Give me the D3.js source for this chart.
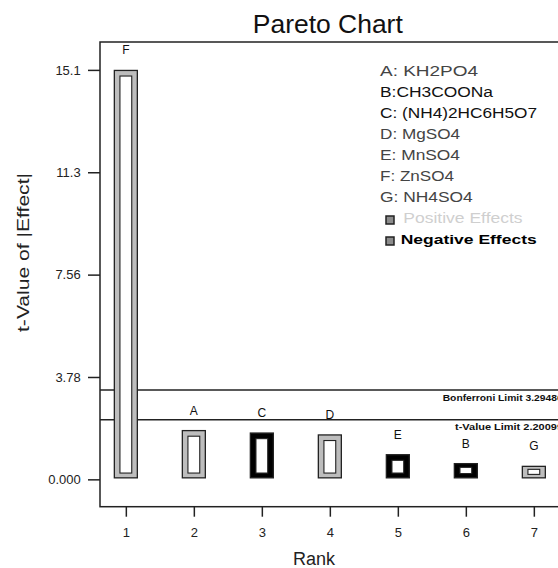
<!DOCTYPE html>
<html>
<head>
<meta charset="utf-8">
<script src="https://cdn.jsdelivr.net/npm/d3@7"></script>
<style>
  html, body { margin: 0; padding: 0; background: #fff; }
  svg { display: block; }
  text { font-family: "Liberation Sans", Arial, sans-serif; }
</style>
</head>
<body>
<script>
// ---------- data ----------
const ranks = [1, 2, 3, 4, 5, 6, 7];
const factorLabels = ["F", "A", "C", "D", "E", "B", "G"];
const tValues = [15.10, 1.80, 1.71, 1.64, 0.91, 0.58, 0.48];
const effectSign = ["+", "+", "-", "+", "-", "-", "+"];

const limitNames = ["Bonferroni Limit", "t-Value Limit"];
const limitValues = [3.29486, 2.20099];

const yTickValues = [0, 3.78, 7.56, 11.34, 15.12];
const yTickLabels = ["0.000", "3.78", "7.56", "11.3", "15.1"];
const xTickLabels = ["1", "2", "3", "4", "5", "6", "7"];

const legendFactors = ["A: KH2PO4", "B:CH3COONa", "C: (NH4)2HC6H5O7", "D: MgSO4",
                       "E: MnSO4", "F: ZnSO4", "G: NH4SO4"];
const legendEffects = ["Positive Effects", "Negative Effects"];

const titleText = "Pareto Chart";
const yTitle = "t-Value of |Effect|";
const xTitle = "Rank";

// ---------- layout / style ----------
const W = 558, H = 568;
const frame = { left: 100, top: 42, right: 576, bottom: 506.7 };
const legendTextLen = [98, 113, 157, 80, 80, 74, 92.7];

const svg = d3.select("body").append("svg").attr("width", W).attr("height", H);

const y = d3.scaleLinear().domain([-1.01, 16.15]).range([frame.bottom, frame.top]);
const x = d3.scaleLinear().domain([0.62, 7.62]).range([frame.left, frame.right]);

// title
svg.append("text")
  .attr("x", 327.8).attr("y", 32.7)
  .attr("text-anchor", "middle")
  .attr("font-size", 25)
  .attr("textLength", 150).attr("lengthAdjust", "spacingAndGlyphs")
  .attr("fill", "#111")
  .text(titleText);

// limit lines (under bars)
const limG = svg.append("g");
limG.selectAll("line").data(limitValues).join("line")
  .attr("x1", frame.left).attr("x2", frame.right)
  .attr("y1", d => y(d)).attr("y2", d => y(d))
  .attr("stroke", "#222").attr("stroke-width", 1.5);

const limitLabelX = [442.7, 455];
const limitLabelLen = [120, 108];
limG.selectAll("text").data(limitValues).join("text")
  .attr("x", (d, i) => limitLabelX[i])
  .attr("y", d => y(d) + 10.5)
  .attr("font-size", 8.5)
  .attr("font-weight", "bold")
  .attr("textLength", (d, i) => limitLabelLen[i]).attr("lengthAdjust", "spacingAndGlyphs")
  .attr("fill", "#111")
  .text((d, i) => limitNames[i] + " " + d.toFixed(5));

// bars
const barW = 23, inset = 5.6;
const bars = ranks.map((r, i) => ({ r, v: tValues[i], lab: factorLabels[i], s: effectSign[i] }));
const barG = svg.append("g").selectAll("g").data(bars).join("g");

barG.append("rect")
  .attr("x", d => x(d.r) - barW / 2)
  .attr("y", d => y(d.v))
  .attr("width", barW)
  .attr("height", d => y(0) - 1.5 - y(d.v))
  .attr("fill", d => d.s === "+" ? "#bdbdbd" : "#000")
  .attr("stroke", "#222").attr("stroke-width", 1.3);

barG.append("rect")
  .attr("x", d => x(d.r) - barW / 2 + inset)
  .attr("y", d => { const h = y(0) - 1.5 - y(d.v); return y(d.v) + Math.min(inset, h * 0.26); })
  .attr("width", barW - 2 * inset)
  .attr("height", d => { const h = y(0) - 1.5 - y(d.v); const iv = Math.min(inset, h * 0.26); return h - iv - Math.min(4.8, h * 0.3); })
  .attr("fill", "#fff")
  .attr("stroke", "#222").attr("stroke-width", 1.1);

barG.append("text")
  .attr("x", d => x(d.r))
  .attr("y", d => y(d.v) - 16)
  .attr("text-anchor", "middle")
  .attr("font-size", 12)
  .attr("fill", "#111")
  .text(d => d.lab);

// frame
svg.append("rect")
  .attr("x", frame.left).attr("y", frame.top)
  .attr("width", frame.right - frame.left).attr("height", frame.bottom - frame.top)
  .attr("fill", "none").attr("stroke", "#222").attr("stroke-width", 1.5);

// y axis
const yAxis = svg.append("g")
  .attr("transform", `translate(${frame.left},0)`)
  .call(d3.axisLeft(y).tickValues(yTickValues).tickSize(12).tickPadding(7.3)
        .tickFormat((d, i) => yTickLabels[i]));
yAxis.select(".domain").remove();
yAxis.selectAll("line").attr("stroke", "#222").attr("stroke-width", 1.5);
yAxis.selectAll("text").attr("font-size", 13).attr("fill", "#222")
  .attr("font-family", "'Liberation Sans', Arial, sans-serif");

// x axis
const xAxis = svg.append("g")
  .attr("transform", `translate(0,${frame.bottom})`)
  .call(d3.axisBottom(x).tickValues(ranks).tickSize(10).tickPadding(11)
        .tickFormat((d, i) => xTickLabels[i]));
xAxis.select(".domain").remove();
xAxis.selectAll("line").attr("stroke", "#222").attr("stroke-width", 1.5);
xAxis.selectAll("text").attr("font-size", 13).attr("fill", "#222")
  .attr("font-family", "'Liberation Sans', Arial, sans-serif");

// axis titles
svg.append("text")
  .attr("transform", "translate(28.5,252.5) rotate(-90)")
  .attr("text-anchor", "middle")
  .attr("font-size", 17)
  .attr("textLength", 159).attr("lengthAdjust", "spacingAndGlyphs")
  .attr("fill", "#222")
  .text(yTitle);

svg.append("text")
  .attr("x", 314).attr("y", 565)
  .attr("text-anchor", "middle")
  .attr("font-size", 18)
  .attr("fill", "#222")
  .text(xTitle);

// legend
const legendX = 380, legendY0 = 75.5, legendStep = 21;
const legG = svg.append("g");
legG.selectAll("text.fac").data(legendFactors).join("text")
  .attr("class", "fac")
  .attr("x", legendX)
  .attr("y", (d, i) => legendY0 + i * legendStep)
  .attr("font-size", 15.5)
  .attr("textLength", (d, i) => legendTextLen[i]).attr("lengthAdjust", "spacingAndGlyphs")
  .attr("fill", (d, i) => (i === 1 || i === 2) ? "#111" : "#444")
  .text(d => d);

const effY = legendEffects.map((d, i) => legendY0 + (legendFactors.length + i) * legendStep);
legG.selectAll("rect.mk").data(legendEffects).join("rect")
  .attr("class", "mk")
  .attr("x", 386).attr("y", (d, i) => effY[i] - 6.5)
  .attr("width", 8).attr("height", 8)
  .attr("fill", "#8c8c8c").attr("stroke", "#222").attr("stroke-width", 1.5);

legG.append("text")
  .attr("x", 403.3).attr("y", effY[0])
  .attr("font-size", 15.5)
  .attr("textLength", 119.3).attr("lengthAdjust", "spacingAndGlyphs")
  .attr("fill", "#cfcfcf")
  .text(legendEffects[0]);

legG.append("text")
  .attr("x", 400.7).attr("y", effY[1])
  .attr("font-size", 13.5)
  .attr("font-weight", "bold")
  .attr("font-family", "'DejaVu Sans', Verdana, sans-serif")
  .attr("textLength", 136).attr("lengthAdjust", "spacingAndGlyphs")
  .attr("fill", "#000")
  .text(legendEffects[1]);
</script>
</body>
</html>
